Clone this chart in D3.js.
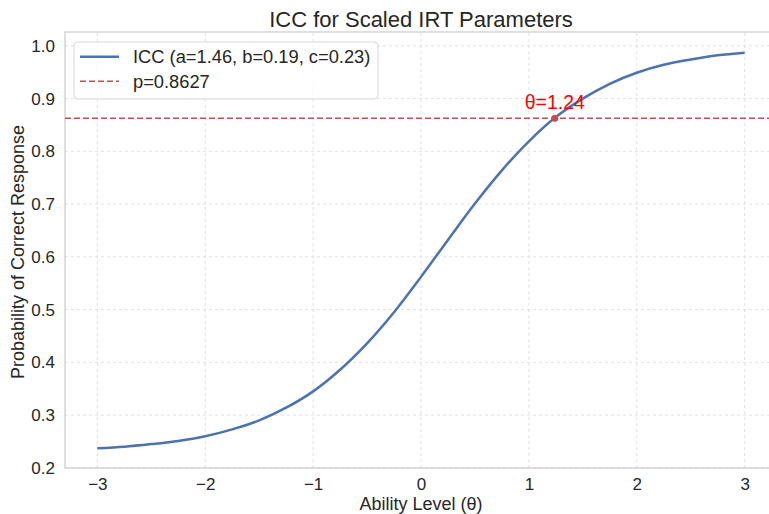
<!DOCTYPE html>
<html>
<head>
<meta charset="utf-8">
<script src="https://cdn.jsdelivr.net/npm/d3@7"></script>
<style>
  body { margin: 0; background: #fff; }
  text { font-family: "Liberation Sans", Arial, sans-serif; }
</style>
</head>
<body>
<svg id="chart"></svg>
<script>
// ICC curve
const theta = [-3, -2.75, -2.5, -2.25, -2, -1.75, -1.5, -1.25, -1, -0.75, -0.5, -0.25,
               0, 0.25, 0.5, 0.75, 1, 1.25, 1.5, 1.75, 2, 2.25, 2.5, 2.75, 3];
const prob = [0.237, 0.240, 0.245, 0.251, 0.260, 0.273, 0.290, 0.314, 0.345, 0.386, 0.436, 0.495,
              0.562, 0.632, 0.701, 0.764, 0.819, 0.865, 0.900, 0.928, 0.949, 0.964, 0.974, 0.982, 0.987];
const xTicks = [-3, -2, -1, 0, 1, 2, 3];
const yTicks = [0.2, 0.3, 0.4, 0.5, 0.6, 0.7, 0.8, 0.9, 1.0];
const pTarget = 0.8627;
const thetaTarget = 1.24;
const legendLabels = ["ICC (a=1.46, b=0.19, c=0.23)", "p=0.8627"];

const width = 769, height = 514;
const margin = {top: 32, left: 65};

const svg = d3.select("#chart").attr("width", width).attr("height", height);

const x = d3.scaleLinear().domain([-3.3, 3.3]).range([margin.left, 777]);
const y = d3.scaleLinear().domain([0.1997, 1.0262]).range([468, margin.top]);

const g = svg.append("g");

// grid
g.selectAll(".gx").data(xTicks).enter().append("line")
    .attr("x1", d => x(d)).attr("x2", d => x(d))
    .attr("y1", y.range()[0]).attr("y2", y.range()[1])
    .attr("stroke", "#dedede").attr("stroke-width", 0.9).attr("stroke-dasharray", "3,3");
g.selectAll(".gy").data(yTicks).enter().append("line")
    .attr("x1", x.range()[0]).attr("x2", x.range()[1])
    .attr("y1", d => y(d)).attr("y2", d => y(d))
    .attr("stroke", "#dedede").attr("stroke-width", 0.9).attr("stroke-dasharray", "3,3");

// frame
g.append("rect")
    .attr("x", x.range()[0]).attr("y", y.range()[1])
    .attr("width", x.range()[1] - x.range()[0]).attr("height", y.range()[0] - y.range()[1])
    .attr("fill", "none").attr("stroke", "#cccccc").attr("stroke-width", 1.25);

// axes
const xAxis = g.append("g").attr("transform", `translate(0,${y.range()[0]})`)
    .call(d3.axisBottom(x).tickValues(xTicks).tickSize(0).tickPadding(10)
        .tickFormat(d => d < 0 ? "\u2212" + Math.abs(d) : d));
const yAxis = g.append("g").attr("transform", `translate(${x.range()[0]},0)`)
    .call(d3.axisLeft(y).tickValues(yTicks).tickSize(0).tickPadding(10).tickFormat(d3.format(".1f")));
[xAxis, yAxis].forEach(a => {
    a.select(".domain").remove();
    a.selectAll("text").attr("font-size", 17).attr("fill", "#262626")
        .style("font-family", "'Liberation Sans', Arial, sans-serif");
});

// threshold line
g.append("line")
    .attr("x1", x.range()[0]).attr("x2", x.range()[1])
    .attr("y1", y(pTarget)).attr("y2", y(pTarget))
    .attr("stroke", "#c44e52").attr("stroke-width", 1.6).attr("stroke-dasharray", "6,3");

// curve
const line = d3.line().x(d => x(d[0])).y(d => y(d[1])).curve(d3.curveCatmullRom);
g.append("path")
    .datum(theta.map((t, i) => [t, prob[i]]))
    .attr("d", line)
    .attr("fill", "none").attr("stroke", "#4c72b0").attr("stroke-width", 2.5);

// point and annotation
g.append("circle").attr("cx", x(thetaTarget)).attr("cy", y(pTarget)).attr("r", 3.5).attr("fill", "#c44e52");
g.append("text").attr("x", x(thetaTarget)).attr("y", y(pTarget) - 9.5)
    .attr("text-anchor", "middle").attr("font-size", 19.5).attr("fill", "red")
    .text("\u03b8=" + thetaTarget.toFixed(2));

// title and labels
svg.append("text").attr("x", (x.range()[0] + x.range()[1]) / 2).attr("y", 27)
    .attr("text-anchor", "middle").attr("font-size", 22).attr("fill", "#262626")
    .text("ICC for Scaled IRT Parameters");
svg.append("text").attr("x", (x.range()[0] + x.range()[1]) / 2).attr("y", 510)
    .attr("text-anchor", "middle").attr("font-size", 18).attr("fill", "#262626")
    .text("Ability Level (\u03b8)");
svg.append("text").attr("transform", `translate(24,${(y.range()[0] + y.range()[1]) / 2 + 2}) rotate(-90)`)
    .attr("text-anchor", "middle").attr("font-size", 18).attr("fill", "#262626")
    .text("Probability of Correct Response");

// legend
const leg = svg.append("g").attr("transform", "translate(74,42)");
leg.append("rect").attr("width", 304).attr("height", 57).attr("rx", 4)
    .attr("fill", "white").attr("fill-opacity", 0.8).attr("stroke", "#d6d6d6");
const legStyles = [{c: "#4c72b0", w: 2.5, dash: null}, {c: "#c44e52", w: 1.6, dash: "6,3"}];
legendLabels.forEach((lab, i) => {
    const yy = 14.7 + i * 24.6;
    leg.append("line").attr("x1", 6).attr("x2", 45).attr("y1", yy).attr("y2", yy)
        .attr("stroke", legStyles[i].c).attr("stroke-width", legStyles[i].w)
        .attr("stroke-dasharray", legStyles[i].dash);
    leg.append("text").attr("x", 59).attr("y", yy + 6.3).attr("font-size", 18.3).attr("fill", "#262626").text(lab);
});
</script>
</body>
</html>
